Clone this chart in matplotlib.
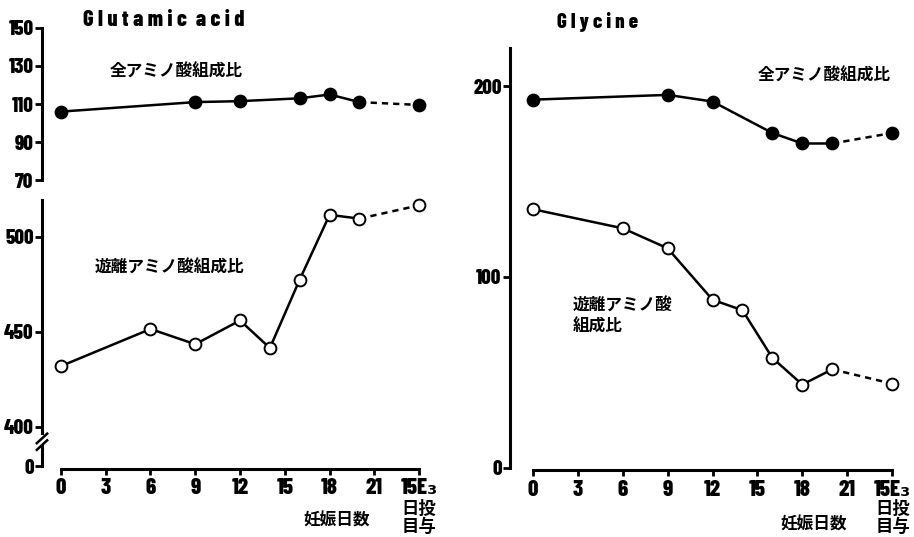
import matplotlib
matplotlib.use("Agg")
import matplotlib.pyplot as plt

# x positions: pregnancy days; the last slot (24) is the "15日目 E3投与" group
x_labels = ['0', '3', '6', '9', '12', '15', '18', '21', '15E₃']
x_ticks = [0, 3, 6, 9, 12, 15, 18, 21, 24]
e3_pos = 24

# Glutamic acid
glu_total_days = [0, 9, 12, 16, 18, 20]
glu_total = [106, 111, 111.5, 113, 115, 111]
glu_total_e3 = 109.5
glu_free_days = [0, 6, 9, 12, 14, 16, 18, 20]
glu_free = [432, 451.5, 443.5, 456, 441.5, 477.5, 511.5, 509.5]
glu_free_e3 = 516.5

# Glycine
gly_total_days = [0, 9, 12, 16, 18, 20]
gly_total = [193, 195.5, 192, 175.5, 170, 170]
gly_total_e3 = 175.5
gly_free_days = [0, 6, 9, 12, 14, 16, 18, 20]
gly_free = [135.5, 125.5, 115, 88, 82.5, 57.5, 43.5, 51.5]
gly_free_e3 = 44

jp_font = ['Noto Sans CJK JP', 'DejaVu Sans']
plt.rcParams['font.family'] = ['Barlow Condensed', 'DejaVu Sans']
plt.rcParams['font.weight'] = 'heavy'

W, H = 914, 537
fig = plt.figure(figsize=(W / 100, H / 100), dpi=100)


def px_axes(left, top, right, bottom):
    return fig.add_axes([left / W, 1 - bottom / H, (right - left) / W, (bottom - top) / H])


def fig_text(x, y, s, **kw):
    fig.text(x / W, 1 - y / H, s, **kw)


def style_axes(ax, show_x):
    for side in ['top', 'right']:
        ax.spines[side].set_visible(False)
    ax.spines['left'].set_linewidth(2.2)
    ax.tick_params(axis='y', direction='out', length=5, width=2, labelsize=15, pad=1)
    ax.patch.set_visible(False)
    if show_x:
        ax.spines['bottom'].set_linewidth(2.2)
        ax.spines['bottom'].set_bounds(0, e3_pos)
        ax.spines['bottom'].set_position(('outward', 2))
        ax.set_xticks(x_ticks)
        ax.set_xticklabels(x_labels)
        ax.tick_params(axis='x', direction='out', length=4, width=2, labelsize=16.5, pad=3)
    else:
        ax.spines['bottom'].set_visible(False)
        ax.set_xticks([])


def draw_series(ax, days, vals, e3_val, filled):
    face = 'black' if filled else 'white'
    ax.plot(days, vals, color='black', lw=1.8, zorder=2, clip_on=False)
    ax.plot([days[-1], e3_pos], [vals[-1], e3_val], color='black', lw=1.8,
            ls=(0, (2.5, 2)), zorder=2, clip_on=False)
    ax.plot(days + [e3_pos], vals + [e3_val], ls='none', marker='o', ms=8.5,
            mfc=face, mec='black', mew=1.4, zorder=3, clip_on=False)


# ---- Glutamic acid, total amino acid ratio (upper)
ax1 = px_axes(42, 28, 440, 180)
ax1.set_xlim(-1.27, 25.4)
ax1.set_ylim(70, 150)
ax1.set_yticks([70, 90, 110, 130, 150])
style_axes(ax1, False)
draw_series(ax1, glu_total_days, glu_total, glu_total_e3, True)

# ---- Glutamic acid, free amino acid ratio (lower, broken axis)
ax2 = px_axes(42, 200, 440, 466)
ax2.set_xlim(-1.27, 25.4)
ax2.set_ylim(379.5, 519.3)
ax2.set_yticks([379.5, 400, 450, 500])
ax2.set_yticklabels(['0', '400', '450', '500'])
style_axes(ax2, True)
ax2.spines['left'].set_bounds(397, 519.3)
yt = ax2.get_yaxis_transform()
ax2.plot([0, 0], [379.5, 390], color='black', lw=2.2, transform=yt, clip_on=False)
ax2.plot([-0.013, 0.013], [391.5, 396.5], color='black', lw=1.8, transform=yt, clip_on=False)
ax2.plot([-0.013, 0.013], [388, 393], color='black', lw=1.8, transform=yt, clip_on=False)
draw_series(ax2, glu_free_days, glu_free, glu_free_e3, False)

# ---- Glycine
ax3 = px_axes(510, 48, 910, 467.5)
ax3.set_xlim(-1.54, 25.2)
ax3.set_ylim(0, 220.1)
ax3.set_yticks([0, 100, 200])
style_axes(ax3, True)
draw_series(ax3, gly_total_days, gly_total, gly_total_e3, True)
draw_series(ax3, gly_free_days, gly_free, gly_free_e3, False)

# ---- titles and annotations
fig_text(83, 20, 'G l u t a m i c  a c i d', fontsize=16, va='center')
fig_text(557, 22, 'G l y c i n e', fontsize=15, va='center')

jp = dict(family=jp_font, fontweight='bold', fontsize=12, va='center')
fig_text(110, 72, '全アミノ酸組成比', **jp)
fig_text(95, 268, '遊離アミノ酸組成比', **jp)
fig_text(758, 76, '全アミノ酸組成比', **jp)
fig_text(573, 316, '遊離アミノ酸\n組成比', linespacing=1.25, **jp)
fig_text(303, 521, '妊娠日数', **jp)
fig_text(780, 525, '妊娠日数', **jp)
fig_text(419, 518, '日投\n目与', ha='center', linespacing=1.0, **dict(jp, fontsize=12.5))
fig_text(893, 518, '日投\n目与', ha='center', linespacing=1.0, **dict(jp, fontsize=12.5))

fig.savefig('out.png', dpi=100)
